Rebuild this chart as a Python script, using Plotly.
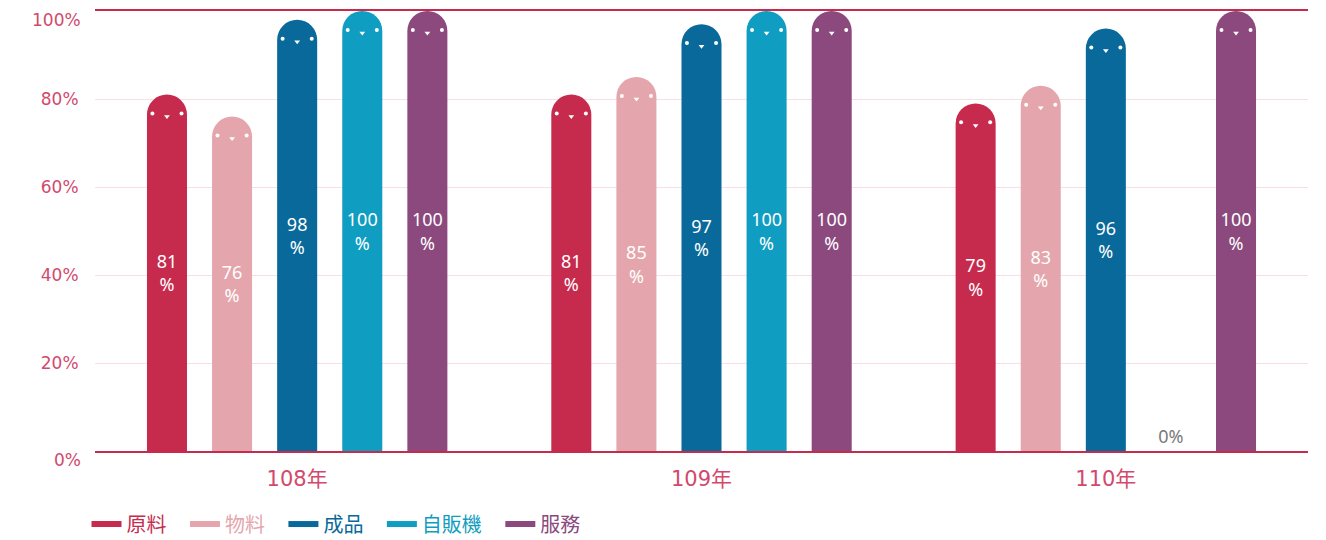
import plotly.graph_objects as go

years = ["108年", "109年", "110年"]
series = ["原料", "物料", "成品", "自販機", "服務"]
colors = ["#c62b4e", "#e4a6ac", "#08699a", "#0f9dc1", "#8b497e"]
v_yuanliao = [81, 81, 79]
v_wuliao = [76, 85, 83]
v_chengpin = [98, 97, 96]
v_zifanji = [100, 100, 0]
v_fuwu = [100, 100, 100]
values = [v_yuanliao, v_wuliao, v_chengpin, v_zifanji, v_fuwu]
y_ticks = [0, 20, 40, 60, 80, 100]

AXIS_COLOR = "#c62b4e"
TICK_COLOR = "#d2496d"
FONT = "Noto Sans CJK TC"
TICK_FONT = "DejaVu Sans, Noto Sans CJK TC"

pitch = 0.161
bw = 0.099
eye_dx = 0.036

fig = go.Figure()
eye_x, eye_y, mouth_x, mouth_y = [], [], [], []
for i, (name, col, vals) in enumerate(zip(series, colors, values)):
    xs = [g + (i - 2) * pitch for g in range(len(years))]
    fig.add_trace(go.Bar(
        x=xs, y=vals, width=bw, marker=dict(color=col, cornerradius="50%", line=dict(width=0)),
        text=[f"{v}<br>%" if v > 0 else f"{v}%" for v in vals],
        textposition=["inside" if v > 0 else "outside" for v in vals],
        insidetextanchor="middle",
        insidetextfont=dict(color="white", size=18, family="Noto Sans"),
        outsidetextfont=dict(color="#7a7a7a", size=18, family="Noto Sans"),
        showlegend=False, hoverinfo="skip", cliponaxis=False,
    ))
    fig.add_trace(go.Scatter(
        x=[None], y=[None], mode="lines", line=dict(color=col, width=6),
        name=f"<span style='color:{col}'>{name}</span>&nbsp;&nbsp;&nbsp;", showlegend=True,
    ))
    for x, v in zip(xs, vals):
        if v > 0:
            eye_x += [x - eye_dx, x + eye_dx]
            eye_y += [v - 4.3, v - 4.3]
            mouth_x.append(x)
            mouth_y.append(v - 5.0)

fig.add_trace(go.Scatter(x=eye_x, y=eye_y, mode="markers",
                         marker=dict(color="white", size=4, symbol="circle"),
                         showlegend=False, hoverinfo="skip"))
fig.add_trace(go.Scatter(x=mouth_x, y=mouth_y, mode="markers",
                         marker=dict(color="white", size=5, symbol="triangle-down"),
                         showlegend=False, hoverinfo="skip"))

mid_ticks = [t for t in y_ticks if 0 < t < max(y_ticks)]
for t in (y_ticks[0], y_ticks[-1]):
    fig.add_annotation(x=0, xref="paper", xanchor="right", xshift=-12,
                       y=t, yref="y", yanchor="middle", yshift=-9,
                       text=f"{t}%", showarrow=False,
                       font=dict(size=17, color=TICK_COLOR, family=TICK_FONT))

fig.update_layout(
    width=1326, height=540,
    margin=dict(l=95, r=18, t=11, b=89, autoexpand=False),
    paper_bgcolor="white", plot_bgcolor="white",
    barmode="overlay",
    font=dict(family=FONT),
    hovermode=False,
    legend=dict(orientation="h", x=-0.007, xanchor="left", y=-0.166, yanchor="middle",
                font=dict(size=20, family=FONT), itemwidth=30, traceorder="normal"),
    xaxis=dict(range=[-0.5, 2.5], tickvals=list(range(len(years))), ticktext=years,
               showgrid=False, zeroline=False, showline=True, mirror=True,
               linecolor=AXIS_COLOR, linewidth=2,
               ticks="outside", ticklen=8, tickcolor="rgba(0,0,0,0)",
               tickfont=dict(size=21, color=TICK_COLOR, family=TICK_FONT)),
    yaxis=dict(range=[0, 100], tickmode="array", tickvals=mid_ticks,
               ticktext=[f"{t}%" for t in mid_ticks],
               showgrid=True, gridcolor="#f7dfe5", gridwidth=1, zeroline=False,
               showline=False, ticks="outside", ticklen=12, tickcolor="rgba(0,0,0,0)",
               tickfont=dict(size=17, color=TICK_COLOR, family=TICK_FONT)),
)

fig.write_html("out.html", config={"displayModeBar": False},
               post_script="document.body.style.margin='0px';")
